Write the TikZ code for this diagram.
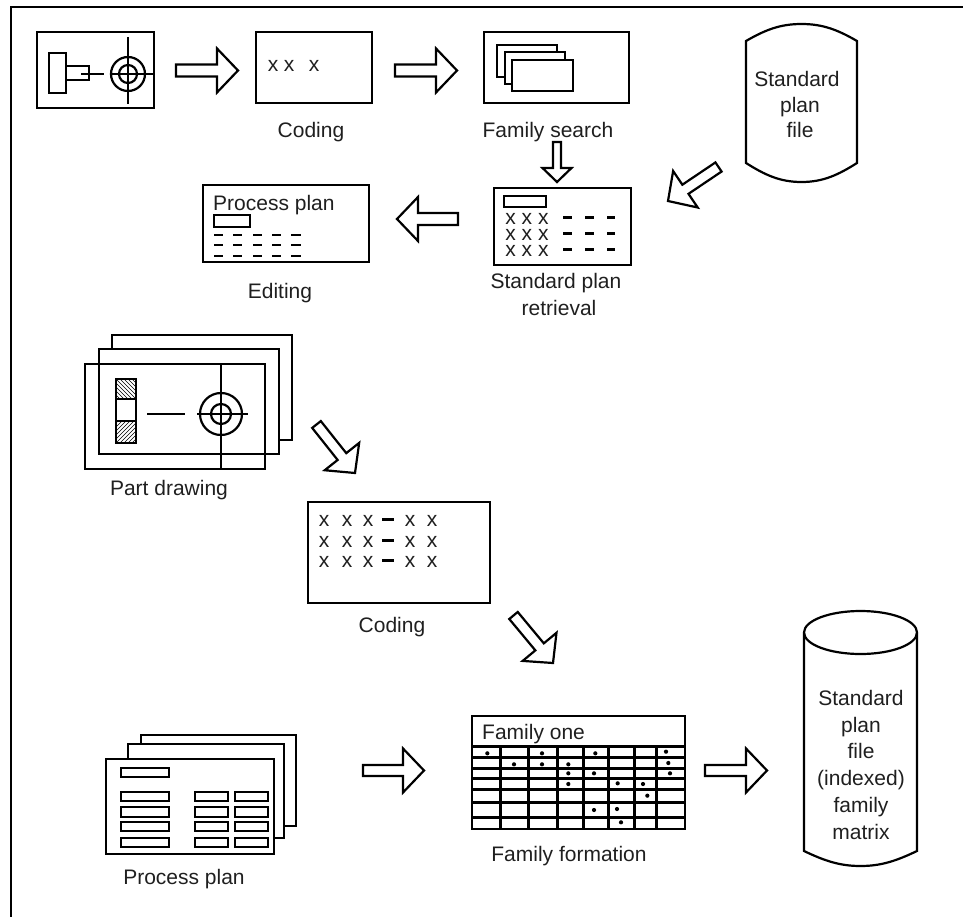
\documentclass[tikz,border=0pt]{standalone}
\usepackage{fontspec}
\setmainfont{Liberation Sans}
\usetikzlibrary{calc}
\tikzset{
  lbl/.style={anchor=base,inner sep=0pt,font=\fontsize{21}{24}\selectfont,text=black!88},
  lbll/.style={lbl,anchor=base west},
  xm/.style={anchor=center,inner sep=0pt,font=\fontsize{21}{24}\selectfont,text=black!88},
  ln/.style={line width=2.2pt,draw=black},
  dashm/.style={line width=3pt,draw=black},
  sheet/.style={line width=2.2pt,draw=black,fill=white},
  hatch/.style={line width=.7pt,draw=black},
  blockar/.style={line width=2.2pt,draw=black,fill=white,line join=miter},
}
% tail, tip, half shaft, half head, head length
\newcommand{\blockarrow}[5]{%
  \coordinate (hb) at ($(#2)!#5pt!(#1)$);
  \draw[blockar] ($(#1)!#3pt!90:(#2)$) -- ($(hb)!#3pt!90:(#2)$) -- ($(hb)!#4pt!90:(#2)$) -- (#2)
     -- ($(hb)!#4pt!-90:(#2)$) -- ($(hb)!#3pt!-90:(#2)$) -- ($(#1)!#3pt!-90:(#2)$) -- cycle;
}
\begin{document}
\begin{tikzpicture}[x=1pt,y=-1pt]
\useasboundingbox (0,0) rectangle (963,917);
% frame
\draw[line width=2.4pt] (11,917) -- (11,7) -- (963,7);

% ---- first row
\draw[ln] (37,32) rectangle (154,108);
\draw[ln] (49,53) rectangle (66,93);
\draw[ln] (66,66) rectangle (89,80);
\draw[ln] (81,74) -- (104,74);
\draw[ln] (128,74) circle (17pt);
\draw[ln] (128,74) circle (9pt);
\draw[ln] (128,37) -- (128,104);
\draw[ln] (110,74) -- (153,74);

\draw[ln] (256,32) rectangle (372,103);
\foreach \i/\xx in {1/273,2/289,3/314} \node[xm] (cx\i) at (\xx,66) {x};
\node[lbl] (coding1) at (311,138) {Coding};

\draw[ln] (484,32) rectangle (629,103);
\draw[sheet] (497,45) rectangle (557,77);
\draw[sheet] (505,52) rectangle (565,84);
\draw[sheet] (512,60) rectangle (573,91);
\node[lbl] (search) at (548,138) {Family search};

\draw[ln] (746,41) .. controls (765,30) and (780,24) .. (801.5,24) .. controls (823,24) and (838,30) .. (857,41)
  -- (857,163) .. controls (838,175) and (823,182) .. (801.5,182) .. controls (780,182) and (765,175) .. (746,163) -- cycle;
\node[lbl] (f1) at (797,87) {Standard};
\node[lbl] (f2) at (800,113) {plan};
\node[lbl] (f3) at (800,138) {file};

% ---- retrieval
\draw[ln] (494,188) rectangle (631,265);
\draw[ln] (504,196) rectangle (546,207);
\node[xm,align=center,font=\fontsize{21}{16}\selectfont] (rx) at (527,235) {x x x\\x x x\\x x x};
\foreach \yy in {218,234,250}
  \foreach \xa/\xb in {563/572,585/594,607/615} \draw[dashm] (\xa,\yy) -- (\xb,\yy);
\node[lbl] (ret1) at (556,288) {Standard plan};
\node[lbl] (ret2) at (559,315) {retrieval};

% ---- editing
\draw[ln] (203,185) rectangle (369,262);
\node[lbll] (pp1) at (213,211) {Process plan};
\draw[ln] (214,215) rectangle (250,227);
\foreach \yy in {235,245,256}
  \foreach \xa/\xb in {214/223,233/242,253/262,272/281,291/301} \draw[dashm,line width=2.4pt] (\xa,\yy) -- (\xb,\yy);
\node[lbl] (editing) at (280,298) {Editing};

% ---- part drawing
\draw[sheet] (112,335) -- (292,335) -- (292,440) -- (112,440) -- cycle;
\draw[sheet] (99,349) rectangle (279,454);
\draw[ln] (85,364) rectangle (265,469);
\begin{scope}
  \clip (116,379) rectangle (136,399);
  \foreach \d in {-24,-20,...,40} \draw[hatch] (116+\d-20,379) -- (116+\d+20,379+40);
\end{scope}
\begin{scope}
  \clip (116,421) rectangle (136,443);
  \foreach \d in {-24,-20,...,44} \draw[hatch] (116+\d+20,421-2) -- (116+\d-20,421+38);
\end{scope}
\draw[ln] (116,379) rectangle (136,443);
\draw[ln] (116,399) -- (136,399) (116,421) -- (136,421);
\draw[ln] (147,414) -- (185,414);
\draw[ln] (221,414) circle (21pt);
\draw[ln] (221,414) circle (10pt);
\draw[ln] (221,364) -- (221,469);
\draw[ln] (197,414) -- (248,414);
\node[lbl] (part) at (169,495) {Part drawing};

% ---- coding 2
\draw[ln] (308,502) rectangle (490,603);
\foreach \r/\yy in {1/521,2/542,3/562}{
  \foreach \c/\xx in {1/324,2/347,3/368,4/410,5/432} \node[xm] (kx\r\c) at (\xx,\yy) {x};
  \draw[dashm] (382,\yy-2) -- (394,\yy-2);
}
\node[lbl] (coding2) at (392,632) {Coding};

% ---- process plan stack
\draw[sheet] (141,735) rectangle (296,826);
\draw[sheet] (128,744) rectangle (284,838);
\draw[sheet] (106,759) rectangle (274,854);
\draw[ln] (121,768) rectangle (169,777);
\foreach \ya/\yb in {792/801,807/817,822/831,838/847}{
  \draw[ln] (121,\ya) rectangle (169,\yb);
  \draw[ln] (195,\ya) rectangle (228,\yb);
  \draw[ln] (235,\ya) rectangle (268,\yb);
}
\node[lbl] (plan) at (184,884) {Process plan};

% ---- family matrix
\draw[line width=2.2pt] (472,716) rectangle (685,829);
\foreach \yy in {746,757,768,778,789,802,817} \draw[line width=3pt] (472,\yy) -- (685,\yy);
\foreach \xx in {500,528,557,583,608,634,656} \draw[line width=3pt] (\xx,746) -- (\xx,829);
\foreach \dx/\dy in {112/160,276/160,436/160,648/155,192/193,276/193,355/193,655/189,355/220,432/220,660/220,355/252,503/250,579/252,592/287,432/330,501/327,513/367}
  \fill (450+\dx/3,700+\dy/3) circle (2.1pt);
\node[lbll] (fam1) at (482,739) {Family one};
\node[lbl] (famf) at (569,861) {Family formation};

% ---- cylinder
\draw[ln] (804,633) -- (804,851) .. controls (825,861) and (840,866) .. (860.5,866) .. controls (881,866) and (896,861) .. (917,851) -- (917,633);
\draw[ln] (860.5,632.5) circle [x radius=56.5pt,y radius=21.5pt];
\node[lbl] (c1) at (861,705) {Standard};
\node[lbl] (c2) at (861,732) {plan};
\node[lbl] (c3) at (861,758) {file};
\node[lbl] (c4) at (861,785) {(indexed)};
\node[lbl] (c5) at (861,812) {family};
\node[lbl] (c6) at (861,839) {matrix};

% ---- block arrows
\coordinate (a1) at (176,70.5);  \coordinate (b1) at (238,70.5);
\coordinate (a2) at (395,70.5);  \coordinate (b2) at (457,70.5);
\coordinate (a3) at (557,142); \coordinate (b3) at (557,182);
\coordinate (a4) at (458,219); \coordinate (b4) at (397,219);
\coordinate (a5) at (718.5,167); \coordinate (b5) at (668,201);
\coordinate (a6) at (316.5,424.5); \coordinate (b6) at (355,473);
\coordinate (a7) at (513.5,615.5); \coordinate (b7) at (553,663);
\coordinate (a8) at (363,770.5); \coordinate (b8) at (424,770.5);
\coordinate (a9) at (705,770.5); \coordinate (b9) at (767,770.5);
\blockarrow{a1}{b1}{6}{22}{21}
\blockarrow{a2}{b2}{6}{22}{21}
\blockarrow{a3}{b3}{4}{14.5}{14}
\blockarrow{a4}{b4}{6}{22}{21}
\blockarrow{a5}{b5}{5.5}{22}{21}
\blockarrow{a6}{b6}{5.5}{22}{21}
\blockarrow{a7}{b7}{5.5}{22}{21}
\blockarrow{a8}{b8}{5.5}{22}{21}
\blockarrow{a9}{b9}{5.5}{22}{21}
\end{tikzpicture}
\end{document}
